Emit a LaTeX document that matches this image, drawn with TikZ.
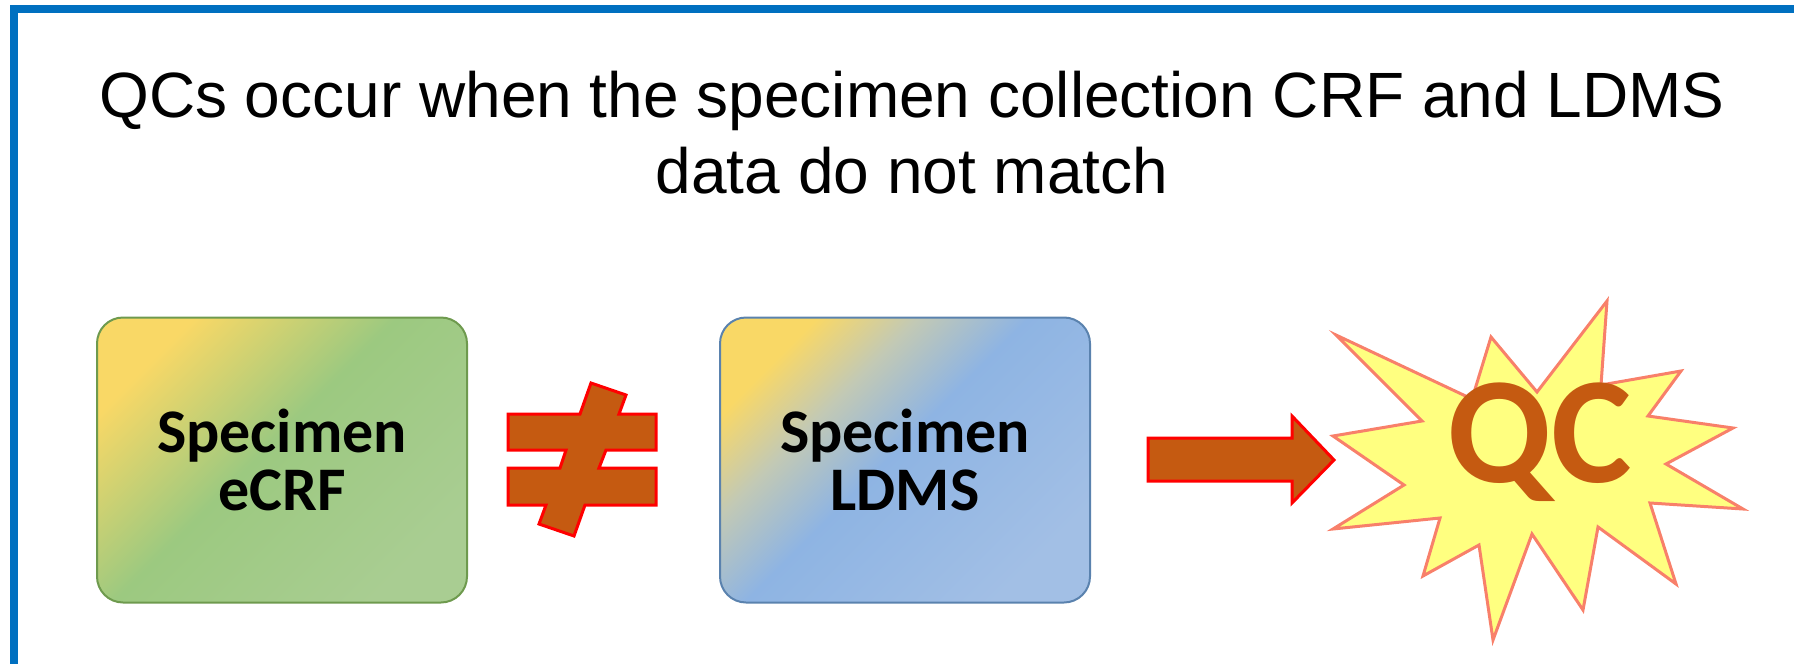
\documentclass[tikz,border=0pt]{standalone}
\usepackage{fontspec}
\setmainfont{Liberation Sans}
\newfontfamily\calibri{Carlito}
\usetikzlibrary{positioning}

\definecolor{frameblue}{HTML}{0070C0}
\definecolor{rustfill}{HTML}{C55A11}
\definecolor{starfill}{HTML}{FFFF80}
\definecolor{starline}{HTML}{F8806A}
\definecolor{goldtop}{HTML}{F9D866}
\definecolor{crfgreen}{HTML}{9CC980}
\definecolor{crfpale}{HTML}{A9CD92}
\definecolor{crfline}{HTML}{6E9A4E}
\definecolor{ldmsgrey}{HTML}{C2C9B5}
\definecolor{ldmsblue}{HTML}{8EB4E3}
\definecolor{ldmspale}{HTML}{A2BFE5}
\definecolor{ldmsline}{HTML}{5A82AE}

\pgfdeclarehorizontalshading{crfshade}{100bp}{color(0bp)=(goldtop); color(25bp)=(goldtop); color(47bp)=(crfgreen); color(75bp)=(crfpale); color(100bp)=(crfpale)}
\pgfdeclarehorizontalshading{ldmsshade}{100bp}{color(0bp)=(goldtop); color(25bp)=(goldtop); color(36bp)=(ldmsgrey); color(48bp)=(ldmsblue); color(75bp)=(ldmspale); color(100bp)=(ldmspale)}

\begin{document}
\begin{tikzpicture}[x=0.5pt,y=-0.5pt,line join=miter,
  title text/.style={anchor=north,inner sep=0pt,align=center,font=\fontsize{32}{38}\selectfont},
  spec box/.style={draw,line width=1pt,rounded corners=13pt,minimum width=185pt,
    minimum height=142.5pt,inner sep=0pt,align=center,shade,shading angle=-45,
    font=\calibri\bfseries\fontsize{31}{29}\selectfont},
  rust shape/.style={fill=rustfill,draw=red,line width=1.5pt},
  burst/.style={fill=starfill,draw=starline,line width=1.5pt}]
  \useasboundingbox (0,0) rectangle (1794,664);
  \clip (0,0) rectangle (1794,664);

  \draw[frameblue,line width=4pt] (14,720) -- (14,9) -- (1850,9);

  \node[title text] (title) at (912,71) {QCs occur when the specimen collection CRF and LDMS\\data do not match};

  \node[spec box,shading=crfshade,draw=crfline] (crf) at (282,460) {Specimen\\eCRF};
  \node[spec box,shading=ldmsshade,draw=ldmsline] (ldms) [right=125.5pt of crf] {Specimen\\LDMS};

  \draw[rust shape] (508,414) -- (580,414) -- (591,383) -- (626,395) -- (619,414)
    -- (656,414) -- (656,450) -- (606,450) -- (599,468) -- (656,468) -- (656,505)
    -- (585,505) -- (574,536) -- (539,524) -- (546,505) -- (508,505) -- (508,468)
    -- (560,468) -- (566,450) -- (508,450) -- cycle;

  \draw[rust shape] (1148,438) -- (1292,438) -- (1292,416) -- (1334,460)
    -- (1292,503) -- (1292,481) -- (1148,481) -- cycle;

  \draw[burst] (1336,335) -- (1472,399) -- (1491,337) -- (1537,392) -- (1607,301)
    -- (1601,385) -- (1681,371) -- (1648,416) -- (1733,428) -- (1666,464)
    -- (1743,509) -- (1650,503) -- (1676,584) -- (1598,527) -- (1583,610)
    -- (1532,534) -- (1493,640) -- (1479,545) -- (1423,576) -- (1440,518)
    -- (1333,529) -- (1404,485) -- (1333,436) -- (1422,421) -- cycle;

  \node[font=\calibri\bfseries\fontsize{76}{76}\selectfont,text=rustfill] (qc) at (1540,442) {QC};
\end{tikzpicture}
\end{document}
